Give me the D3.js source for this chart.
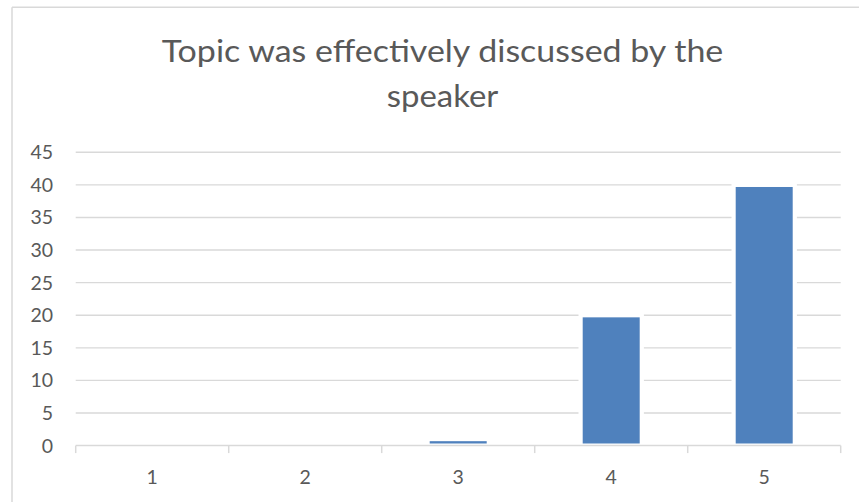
<!DOCTYPE html>
<html>
<head>
<meta charset="utf-8">
<script src="https://cdn.jsdelivr.net/npm/d3@7"></script>
<style>
  html, body { margin: 0; padding: 0; background: #fff; }
  svg { display: block; }
</style>
</head>
<body>
<svg id="chart" width="859" height="502"></svg>
<script>
const titleLines = ["Topic was effectively discussed by the", "speaker"];
const categories = ["1", "2", "3", "4", "5"];
const values = [0, 0, 1, 20, 40];
const yTicks = [0, 5, 10, 15, 20, 25, 30, 35, 40, 45];

const W = 859, H = 502;
const FONT = "Lato, 'Open Sans', 'Liberation Sans', sans-serif";
const TEXT = "#595959", GRID = "#d9d9d9", BAR = "#4f81bd";
const plot = { left: 75.7, right: 840.7, top: 152.3, bottom: 445.6 };

const svg = d3.select("#chart");

// chart frame (top + left edges visible)
svg.append("line").attr("x1", 12).attr("x2", W).attr("y1", 7.3).attr("y2", 7.3)
  .attr("stroke", GRID).attr("stroke-width", 1.5);
svg.append("line").attr("x1", 12).attr("x2", 12).attr("y1", 7.3).attr("y2", H)
  .attr("stroke", GRID).attr("stroke-width", 1.5);

const x = d3.scaleBand().domain(categories).range([plot.left, plot.right]).padding(0);
const y = d3.scaleLinear().domain([0, 45]).range([plot.bottom, plot.top]);

// gridlines
svg.append("g").selectAll("line").data(yTicks.filter(d => d > 0)).join("line")
  .attr("x1", plot.left).attr("x2", plot.right)
  .attr("y1", d => y(d)).attr("y2", d => y(d))
  .attr("stroke", GRID).attr("stroke-width", 1.4);

// bars
const barW = x.bandwidth() / 2.5;
svg.append("g").selectAll("rect").data(values.map((v, i) => ({ c: categories[i], v }))).join("rect")
  .filter(d => d.v > 0)
  .attr("x", d => x(d.c) + (x.bandwidth() - barW) / 2)
  .attr("width", barW)
  .attr("y", d => y(d.v))
  .attr("height", d => y(0) - y(d.v))
  .attr("fill", BAR)
  .attr("stroke", "#fff").attr("stroke-width", 4.2);

// x axis line and ticks
const xAxis = svg.append("g");
xAxis.append("line").attr("x1", plot.left).attr("x2", plot.right)
  .attr("y1", y(0)).attr("y2", y(0)).attr("stroke", GRID).attr("stroke-width", 1.5);
const bounds = categories.map(c => x(c)).concat([plot.right]);
xAxis.selectAll("line.tick").data(bounds).join("line").attr("class", "tick")
  .attr("x1", d => d).attr("x2", d => d)
  .attr("y1", y(0)).attr("y2", y(0) + 7.5)
  .attr("stroke", GRID).attr("stroke-width", 1.5);
xAxis.selectAll("text").data(categories).join("text")
  .attr("x", d => x(d) + x.bandwidth() / 2)
  .attr("y", 484.3)
  .attr("text-anchor", "middle")
  .attr("font-family", FONT).attr("font-size", 19.5).attr("fill", TEXT)
  .text(d => d);

// y labels
svg.append("g").selectAll("text").data(yTicks).join("text")
  .attr("x", 53)
  .attr("y", d => y(d) + 7)
  .attr("text-anchor", "end")
  .attr("font-family", FONT).attr("font-size", 19.5).attr("fill", TEXT)
  .text(d => d);

// title
const titleTargets = [561.6, 111.6];
const baselines = [61.7, 106.7];
titleLines.forEach((t, i) => {
  svg.append("text")
    .attr("x", 442.5).attr("y", baselines[i])
    .attr("text-anchor", "middle")
    .attr("font-family", FONT).attr("font-size", 31).attr("fill", TEXT)
    .attr("textLength", titleTargets[i]).attr("lengthAdjust", "spacingAndGlyphs")
    .text(t);
});
</script>
</body>
</html>
